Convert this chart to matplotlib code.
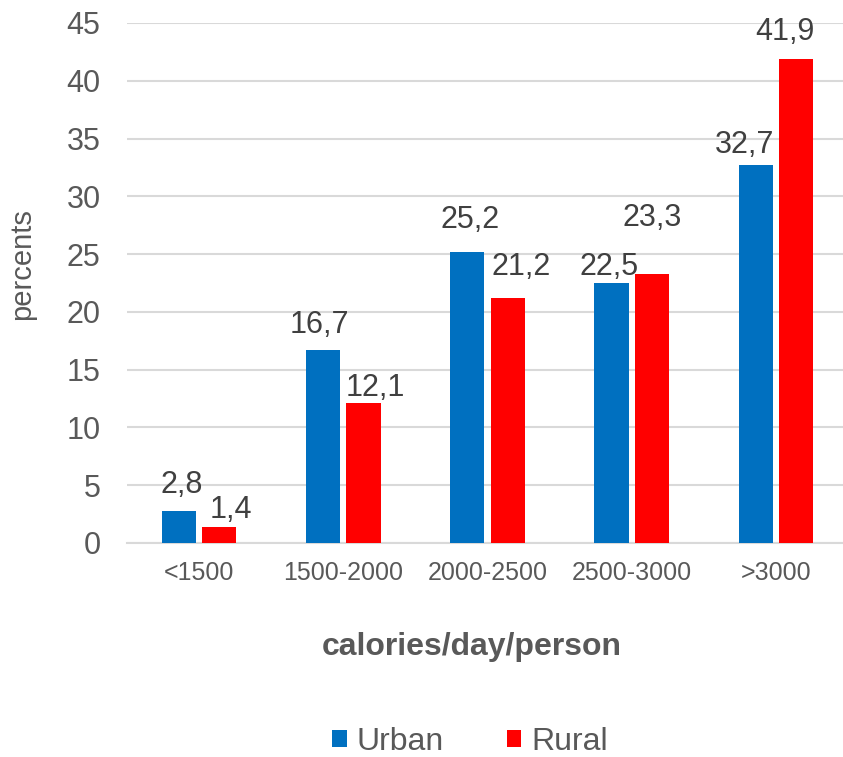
import matplotlib.pyplot as plt
import numpy as np

plt.rcParams["font.family"] = ["Liberation Sans", "DejaVu Sans"]

categories = ["<1500", "1500-2000", "2000-2500", "2500-3000", ">3000"]
urban = [2.8, 16.7, 25.2, 22.5, 32.7]
rural = [1.4, 12.1, 21.2, 23.3, 41.9]

# label offsets (dx in category units, dy in data units) as laid out in the sheet
urban_offsets = [(0.02, 2.2), (-0.025, 2.15), (0.02, 2.75), (-0.02, 1.4), (-0.075, 1.75)]
rural_offsets = [(0.08, 1.45), (0.08, 1.3), (0.09, 2.7), (0.0, 4.8), (-0.075, 2.3)]

blue = "#0070C0"
red = "#FF0000"
text_gray = "#595959"
label_gray = "#404040"

fig = plt.figure(figsize=(8.43, 7.57), dpi=100)
ax = fig.add_axes([127 / 843, 1 - 543 / 757, 721 / 843, 520 / 757])

x = np.arange(len(categories))
width = 0.236
gap = 0.044
xu = x - (width + gap) / 2
xr = x + (width + gap) / 2
ax.bar(xu, urban, width, color=blue, label="Urban", zorder=3)
ax.bar(xr, rural, width, color=red, label="Rural", zorder=3)

for xi, v, (dx, dy) in zip(xu, urban, urban_offsets):
    ax.text(xi + dx, v + dy, f"{v:.1f}".replace(".", ","), ha="center", va="center",
            fontsize=22, color=label_gray)
for xi, v, (dx, dy) in zip(xr, rural, rural_offsets):
    ax.text(xi + dx, v + dy, f"{v:.1f}".replace(".", ","), ha="center", va="center",
            fontsize=22, color=label_gray)

ax.set_xlim(-0.5, 4.5)
ax.set_ylim(0, 45)
ax.set_yticks(range(0, 46, 5))
ax.set_xticks(x)
ax.set_xticklabels(categories)
ax.tick_params(axis="y", length=0, labelsize=22, labelcolor=text_gray, pad=19)
ax.tick_params(axis="x", length=0, labelsize=18, labelcolor=text_gray, pad=13)
ax.grid(axis="y", color="#D9D9D9", linewidth=1.5, zorder=0)
for s in ["top", "right", "left"]:
    ax.spines[s].set_visible(False)
ax.spines["bottom"].set_color("#D9D9D9")
ax.spines["bottom"].set_linewidth(1.5)

ax.set_ylabel("percents", fontsize=21, color=text_gray, va="center")
ax.yaxis.set_label_coords((22 - 127) / 721, (543 - 264) / 520)
ax.set_xlabel("calories/day/person", fontsize=23, fontweight="bold",
              color=text_gray, va="center")
ax.xaxis.set_label_coords((472 - 127) / 721, (543 - 647) / 520)

fig.legend(loc="center", bbox_to_anchor=(470 / 843, 1 - 742 / 757), ncol=2,
           frameon=False, fontsize=23, labelcolor=text_gray, handlelength=0.44,
           handleheight=0.44, handletextpad=0.3, columnspacing=2.0)

fig.savefig("out.png", dpi=100)
